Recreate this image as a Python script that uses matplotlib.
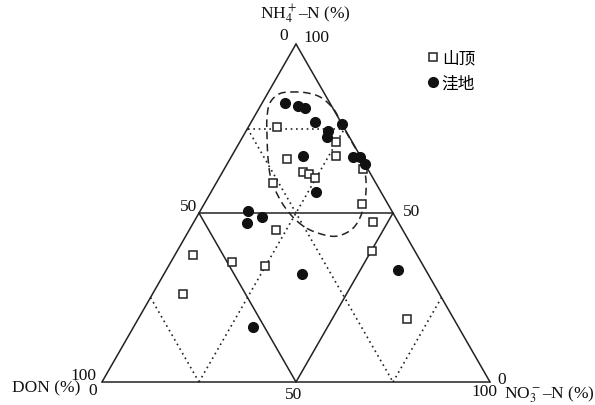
import numpy as np
import matplotlib
matplotlib.use("Agg")
import matplotlib.pyplot as plt

plt.rcParams['font.family'] = ['Liberation Serif', 'Noto Sans CJK SC', 'DejaVu Sans']
plt.rcParams['mathtext.fontset'] = 'stix'

# N composition of each sample (%), DON = 100 - NH4 - NO3
hill_nh4 = [75.4, 71.1, 66.8, 66.0, 62.0, 61.5, 60.4, 58.9, 63.0, 52.7,
            47.4, 45.1, 37.5, 35.6, 34.4, 26.0, 38.7, 18.6]
hill_no3 = [7.3, 24.8, 26.9, 14.8, 20.7, 22.7, 24.7, 14.7, 35.8, 40.6,
            46.1, 22.2, 4.6, 15.6, 24.8, 7.9, 50.3, 69.2]

low_nh4 = [82.5, 81.7, 81.0, 77.0, 76.2, 74.3, 72.4, 67.0, 66.7, 66.5,
           64.5, 56.1, 50.7, 47.0, 48.7, 32.0, 33.2, 16.4]
low_no3 = [5.8, 9.6, 11.8, 16.4, 23.8, 21.0, 21.7, 18.4, 31.4, 33.3,
           35.5, 27.1, 12.2, 13.8, 16.8, 35.5, 59.6, 30.7]

labels = ['山顶', '洼地']

# grid lines as (NH4, NO3) end points
solid_lines = [((100, 0), (0, 100)), ((0, 100), (0, 0)), ((0, 0), (100, 0)),
               ((50, 0), (50, 50)), ((50, 0), (0, 50)), ((50, 50), (0, 50))]
dotted_lines = [((0, 25), (75, 25)), ((75, 0), (0, 75)), ((75, 0), (75, 25)),
                ((25, 0), (0, 25)), ((0, 75), (25, 75))]

# hand-drawn cluster outline, anchor points (NH4, NO3) going clockwise
hull_nh4 = [85.8, 85.5, 84.0, 80.5, 76.3, 71.6, 66.9, 61.8, 56.5, 50.9,
            46.5, 44.1, 43.1, 44.7, 47.3, 50.9, 55.0, 60.1, 66.0, 71.9,
            77.8, 82.5, 85.2]
hull_no3 = [5.8, 10.3, 14.7, 19.6, 23.6, 28.3, 32.9, 36.9, 39.8, 41.8,
            42.2, 40.9, 37.8, 31.8, 26.9, 22.2, 17.9, 13.5, 9.8, 6.6,
            3.6, 2.0, 3.0]

H = np.sqrt(3) / 2


def to_xy(nh4, no3):
    nh4 = np.asarray(nh4, float)
    no3 = np.asarray(no3, float)
    return no3 + nh4 / 2, nh4 * H


def closed_spline(x, y, n=20):
    # Catmull-Rom through the points, wrapped round to close the loop
    p = np.column_stack([x, y])
    m = len(p)
    out = []
    t = np.linspace(0, 1, n, endpoint=False)[:, None]
    for i in range(m):
        p0, p1, p2, p3 = p[i - 1], p[i], p[(i + 1) % m], p[(i + 2) % m]
        seg = 0.5 * (2 * p1 + (-p0 + p2) * t
                     + (2 * p0 - 5 * p1 + 4 * p2 - p3) * t ** 2
                     + (-p0 + 3 * p1 - 3 * p2 + p3) * t ** 3)
        out.append(seg)
    out.append(p[:1])
    out = np.vstack(out)
    return out[:, 0], out[:, 1]


fig = plt.figure(figsize=(5.95, 4.06), dpi=100)
ax = fig.add_axes([102 / 595, 23 / 406, 388 / 595, 338 / 406])
ax.set_xlim(0, 100)
ax.set_ylim(0, 100 * H)
ax.axis('off')

for a, b in solid_lines:
    x, y = to_xy([a[0], b[0]], [a[1], b[1]])
    ax.plot(x, y, color='#222222', lw=1.1, solid_capstyle='round', clip_on=False)
for a, b in dotted_lines:
    x, y = to_xy([a[0], b[0]], [a[1], b[1]])
    ax.plot(x, y, color='#222222', lw=1.2, ls=(0, (1, 2.2)), clip_on=False)

hx, hy = closed_spline(*to_xy(hull_nh4, hull_no3))
ax.plot(hx, hy, color='#222222', lw=1.1, ls=(0, (5, 3)))

x, y = to_xy(hill_nh4, hill_no3)
ax.plot(x, y, 's', ms=6, mfc='white', mec='#222222', mew=1.1, ls='none',
        label=labels[0], zorder=5)
x, y = to_xy(low_nh4, low_no3)
ax.plot(x, y, 'o', ms=7, mfc='#111111', mec='#111111', ls='none',
        label=labels[1], zorder=5)

fs = 12.5
tk = dict(fontsize=fs, ha='center', va='center', color='#111111')
ax.text(52.4, 94.4, 'NH$_4^+$–N (%)', **tk)
ax.text(46.9, 89.0, '0', **tk)
ax.text(55.2, 88.5, '100', **tk)
ax.text(22.2, 45.1, '50', **tk)
ax.text(79.9, 43.8, '50', **tk)
ax.text(-4.9, 1.9, '100', **tk)
ax.text(-14.4, -1.5, 'DON (%)', **tk)
ax.text(-2.3, -2.1, '0', **tk)
ax.text(49.5, -3.1, '50', **tk)
ax.text(98.5, -2.3, '100', **tk)
ax.text(103.1, 0.7, '0', **tk)
ax.text(103.6, -2.9, 'NO$_3^-$–N (%)', fontsize=fs, ha='left', va='center',
        color='#111111')

fig.legend(loc='upper left', bbox_to_anchor=(420 / 595, 1 - 43 / 406),
           frameon=False, handlelength=0.6, handletextpad=0.2,
           labelspacing=0.55, borderpad=0, prop={'size': 12})

fig.savefig('out.png', dpi=100)
